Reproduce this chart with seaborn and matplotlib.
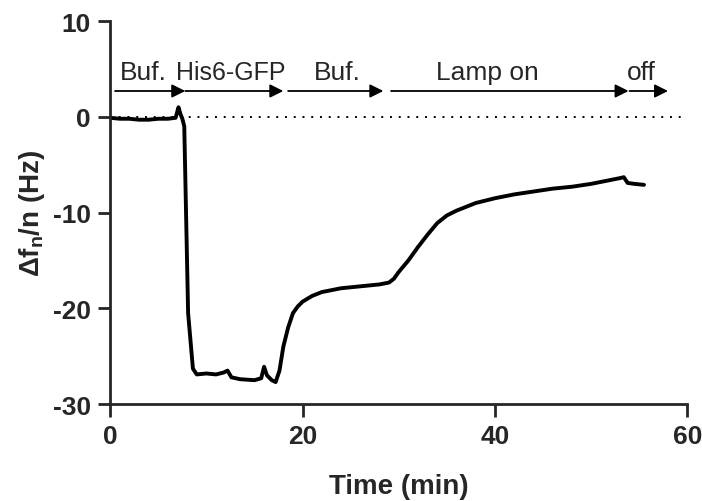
import matplotlib
matplotlib.use('Agg')
import matplotlib.pyplot as plt
import seaborn as sns
import pandas as pd

# trace
time_min = [0, 1, 2, 3, 4, 5, 6, 6.8, 7.1, 7.3, 7.5, 7.7, 8.1, 8.6, 9.0, 10, 11,
            11.8, 12.2, 12.6, 13.5, 15, 15.7, 16.0, 16.3, 16.8, 17.2, 17.6, 18.0,
            18.5, 19.0, 19.5, 20, 21, 22, 24, 26, 28, 29, 29.5, 30, 31, 32, 33, 34,
            35, 36, 37, 38, 40, 42, 44, 46, 48, 50, 52, 53, 53.4, 53.8, 54.5, 55.5]
delta_f = [-0.1, -0.2, -0.2, -0.3, -0.3, -0.2, -0.2, -0.1, 1.0, 0.3, -0.2, -1.0,
           -20.5, -26.3, -26.9, -26.8, -26.9, -26.7, -26.5, -27.2, -27.4, -27.5,
           -27.3, -26.1, -27.0, -27.5, -27.7, -26.5, -24.0, -22.0, -20.5, -19.8,
           -19.3, -18.7, -18.3, -17.9, -17.7, -17.5, -17.3, -16.9, -16.2, -15.0,
           -13.6, -12.3, -11.1, -10.3, -9.8, -9.4, -9.0, -8.5, -8.1, -7.8, -7.5,
           -7.3, -7.0, -6.6, -6.4, -6.3, -6.9, -7.0, -7.1]

# injection steps (start, end, label, label position)
step_start = [0.5, 7.8, 18.5, 29.2, 54.0]
step_end = [7.8, 18.0, 28.4, 53.9, 58.0]
step_labels = ['Buf.', 'His6-GFP', 'Buf.', 'Lamp on', 'off']
label_x = [3.4, 12.5, 23.6, 39.2, 55.2]
label_size = [19, 18, 19, 19, 19]

df = pd.DataFrame({'t': time_min, 'f': delta_f})

sns.set_style('ticks')
plt.rcParams['font.family'] = ['Liberation Sans', 'DejaVu Sans']
plt.rcParams['axes.unicode_minus'] = False
plt.rcParams['mathtext.fontset'] = 'custom'
plt.rcParams['mathtext.rm'] = 'Liberation Sans:bold'
plt.rcParams['mathtext.it'] = 'Liberation Sans:bold'
plt.rcParams['mathtext.bf'] = 'Liberation Sans:bold'

fig, ax = plt.subplots(figsize=(7.02, 5.02), dpi=100)
fig.subplots_adjust(left=0.157, right=0.979, top=0.956, bottom=0.193)

ax.plot([0, 60], [0, 0], color='black', lw=1.4, linestyle=(0, (1, 3.5)))
sns.lineplot(data=df, x='t', y='f', color='black', lw=2.8, estimator=None,
             sort=False, ax=ax)

for s, e in zip(step_start, step_end):
    ax.annotate('', xy=(e, 2.7), xytext=(s, 2.7),
                arrowprops=dict(arrowstyle='-|>', color='black', lw=1.3,
                                mutation_scale=20, shrinkA=0, shrinkB=0))
for x, lab, fs in zip(label_x, step_labels, label_size):
    ax.text(x, 4.7, lab, ha='center', va='center', fontsize=fs)

ax.set_xlim(0, 60)
ax.set_ylim(-30, 10)
ax.set_xticks([0, 20, 40, 60])
ax.set_yticks([-30, -20, -10, 0, 10])
ax.set_xlabel('Time (min)', fontsize=20, fontweight='bold', labelpad=18)
ax.set_ylabel(r'$\Delta f_n$/n (Hz)', fontsize=20, fontweight='bold', labelpad=4)
for lab in ax.get_xticklabels() + ax.get_yticklabels():
    lab.set_fontweight('bold')
ax.tick_params(labelsize=19, width=2, length=9, pad=5, direction='out')
for sp in ['left', 'bottom']:
    ax.spines[sp].set_linewidth(2)
sns.despine(ax=ax)

plt.savefig('out.png', dpi=100)
